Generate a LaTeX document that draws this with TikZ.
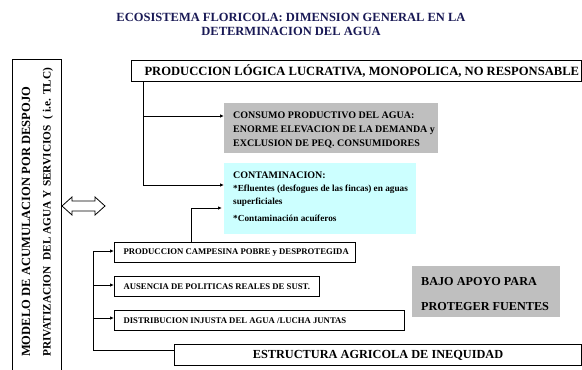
\documentclass[tikz,border=0pt]{standalone}
\usepackage{fontspec}
\setmainfont{Liberation Serif}
\usepackage{xcolor}
\usetikzlibrary{arrows.meta}

\definecolor{titleblue}{RGB}{25,25,85}
\definecolor{boxgray}{RGB}{191,191,191}
\definecolor{boxcyan}{RGB}{204,255,255}

\tikzset{
  box/.style={draw, line width=1.1pt, anchor=north west, inner xsep=9pt,
    inner ysep=0pt, font=\bfseries\fontsize{8.7}{10}\selectfont},
  fillbox/.style={anchor=north west, inner sep=0pt, align=left},
  conn/.style={line width=0.8pt, -{Latex[length=4pt,width=3.5pt]}},
  line/.style={line width=0.8pt}
}

\begin{document}
\begin{tikzpicture}[x=1pt,y=-1pt]
\useasboundingbox (0,0) rectangle (582,370);

% title
\node[align=center, text=titleblue, font=\bfseries\fontsize{12.5}{14}\selectfont]
  (title) at (291,24) {ECOSISTEMA FLORICOLA: DIMENSION GENERAL EN LA\\DETERMINACION DEL AGUA};

% left box
\draw[line width=0.9pt] (12,373) -- (12,59) -- (61,59) -- (61,373);
\node[rotate=90, anchor=west, inner sep=0pt, font=\bfseries\fontsize{12.5}{14}\selectfont]
  (modelo) at (26,357) {\makebox[270pt][s]{MODELO DE ACUMULACION POR DESPOJO}};
\node[rotate=90, anchor=west, inner sep=0pt, font=\bfseries\fontsize{11.3}{13}\selectfont]
  (privat) at (48,357) {\makebox[289pt][s]{PRIVATIZACION\ \ DEL AGUA Y SERVICIOS\ \ ( i.e. TLC)}};

% double arrow
\draw[line width=0.8pt, fill=white] (62,206) -- (72,197) -- (72,201) -- (95,201) -- (95,197)
  -- (105,206) -- (95,215) -- (95,211) -- (72,211) -- (72,215) -- cycle;

% boxes
\node[box, inner xsep=13pt, minimum height=21pt, font=\bfseries\fontsize{12.6}{14}\selectfont]
  (lucro) at (131,60) {\makebox[424pt][l]{PRODUCCION LÓGICA LUCRATIVA, MONOPOLICA, NO RESPONSABLE}};
\fill[boxgray] (224,103) rectangle (438,153);
\node[fillbox, font=\bfseries\fontsize{10}{14}\selectfont] (consumo) at (233,112)
  {CONSUMO PRODUCTIVO DEL AGUA:\\ENORME ELEVACION DE LA DEMANDA y\\EXCLUSION DE PEQ. CONSUMIDORES};
\fill[boxcyan] (224,163) rectangle (416,234);
\node[fillbox, font=\bfseries\fontsize{9.25}{13}\selectfont] (contam) at (233,172)
  {{\fontsize{10}{13}\selectfont CONTAMINACION:}\\*Efluentes (desfogues de las fincas) en aguas\\superficiales\\[4pt]*Contaminación acuíferos};

\node[box, minimum height=20pt] (campesina) at (114,242)
  {\makebox[223pt][l]{PRODUCCION CAMPESINA POBRE y DESPROTEGIDA}};
\node[box, minimum height=20pt] (ausencia) at (114,276)
  {\makebox[187pt][l]{AUSENCIA DE POLITICAS REALES DE SUST.}};
\node[box, minimum height=20pt] (distrib) at (114,310)
  {\makebox[272pt][l]{DISTRIBUCION INJUSTA DEL AGUA /LUCHA JUNTAS}};
\node[box, minimum height=21pt, font=\bfseries\fontsize{12.3}{14}\selectfont]
  (estructura) at (174,344) {\makebox[389pt][c]{ESTRUCTURA AGRICOLA DE INEQUIDAD}};
\fill[boxgray] (412,266) rectangle (560,317);
\node[fillbox, font=\bfseries\fontsize{12.2}{25}\selectfont] (bajo) at (421,277)
  {BAJO APOYO PARA\\PROTEGER FUENTES};

% connectors
\coordinate (j1) at (143,116);
\coordinate (br) at (93,251);
\draw[line] (lucro.south -| 143,0) -- (143,185);
\draw[conn] (j1) -- (224,116);
\draw[conn] (143,185) -- (224,185);
\draw[conn] (campesina.north -| 191,0) |- (222,208);
\draw[line] (br) |- (estructura.west |- 0,350);
\draw[conn] (br) -- (campesina.west |- br);
\draw[conn] (93,285) -- (ausencia.west |- 0,285);
\draw[conn] (93,318) -- (distrib.west |- 0,318);
\end{tikzpicture}
\end{document}
